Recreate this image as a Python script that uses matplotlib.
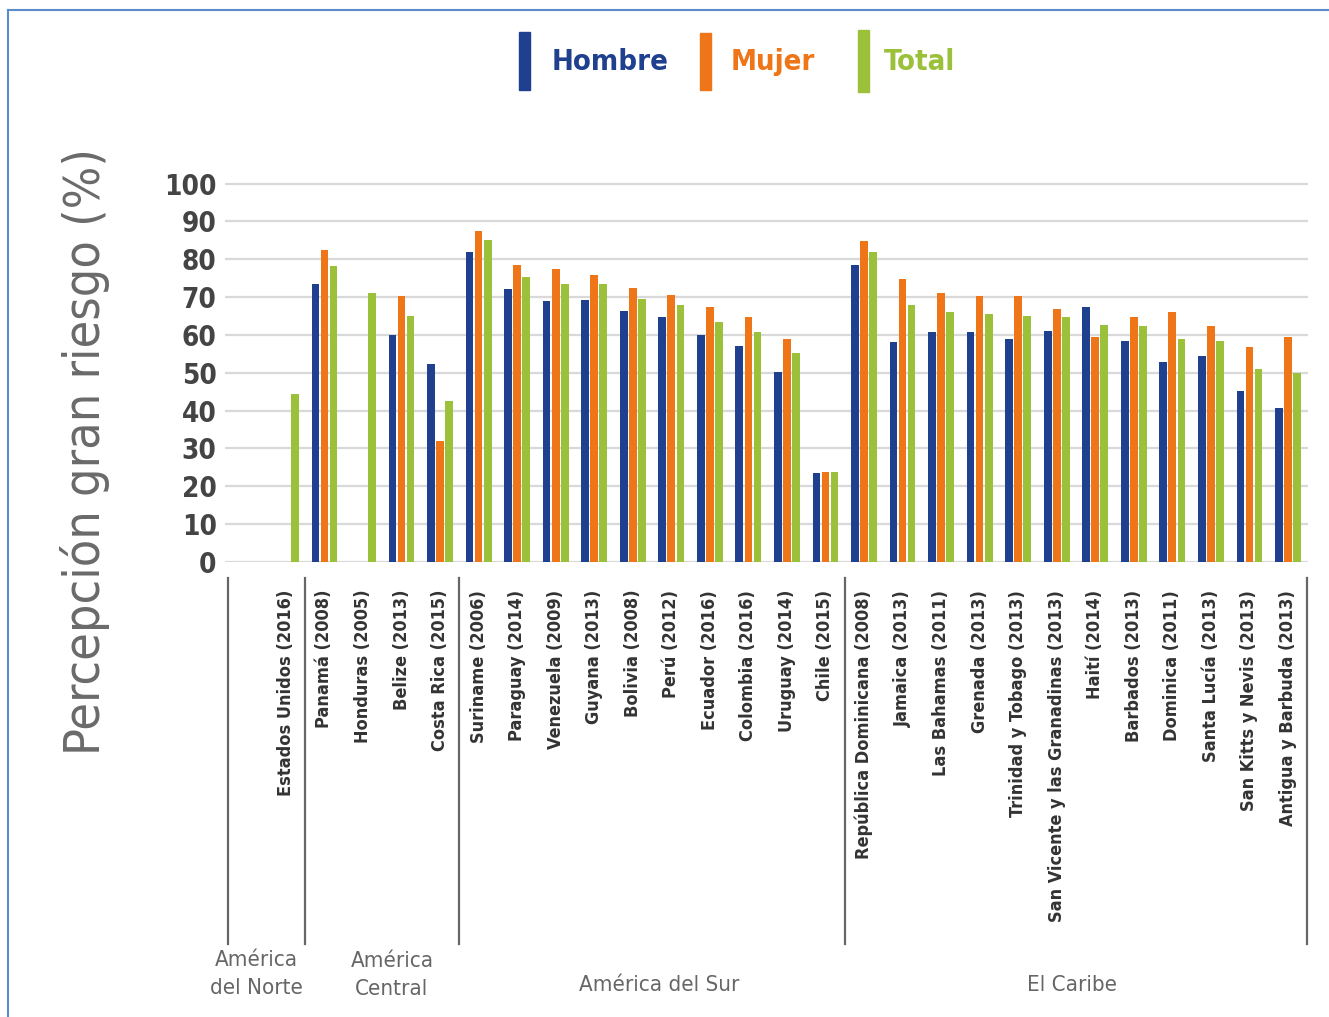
import matplotlib.pyplot as plt
from matplotlib.patches import Rectangle
from matplotlib.lines import Line2D
import numpy as np

# countries (survey year) in display order
paises = ["Estados Unidos (2016)", "Panamá (2008)", "Honduras (2005)", "Belize (2013)",
          "Costa Rica (2015)", "Suriname (2006)", "Paraguay (2014)", "Venezuela (2009)",
          "Guyana (2013)", "Bolivia (2008)", "Perú (2012)", "Ecuador (2016)",
          "Colombia (2016)", "Uruguay (2014)", "Chile (2015)",
          "República Dominicana (2008)", "Jamaica (2013)", "Las Bahamas (2011)",
          "Grenada (2013)", "Trinidad y Tobago (2013)",
          "San Vicente y las Granadinas (2013)", "Haití (2014)", "Barbados (2013)",
          "Dominica (2011)", "Santa Lucía (2013)", "San Kitts y Nevis (2013)",
          "Antigua y Barbuda (2013)"]

hombre = [np.nan, 73.4, np.nan, 59.9, 52.2, 81.8, 72.0, 68.9, 69.2, 66.4, 64.6, 59.9,
          57.1, 50.2, 23.4, 78.5, 58.1, 60.8, 60.8, 58.9, 61.1, 67.4, 58.4, 52.8,
          54.3, 45.3, 40.7]
mujer = [np.nan, 82.4, np.nan, 70.2, 32.1, 87.4, 78.5, 77.3, 75.7, 72.4, 70.6, 67.4,
         64.6, 58.9, 23.8, 84.7, 74.8, 71.0, 70.2, 70.2, 66.8, 59.5, 64.6, 66.0,
         62.3, 56.7, 59.5]
total = [44.5, 78.2, 71.0, 65.0, 42.6, 85.2, 75.3, 73.4, 73.4, 69.6, 67.8, 63.5,
         60.8, 55.3, 23.8, 81.8, 67.9, 66.0, 65.5, 65.0, 64.6, 62.7, 62.3, 58.9,
         58.4, 51.0, 50.0]

series = ["Hombre", "Mujer", "Total"]
colores = ["#1f3f8f", "#ee7518", "#9bc03a"]

regiones = ["América\ndel Norte", "América\nCentral", "América del Sur", "El Caribe"]
separadores = [-1.5, 0.5, 4.5, 14.5, 26.5]

plt.rcParams['font.family'] = ["DejaVu Sans"]
plt.rcParams['font.stretch'] = "condensed"

W, H = 1329, 1017
fig = plt.figure(figsize=(W / 100, H / 100), dpi=100)
ax = fig.add_axes([225 / W, 1 - 562 / H, (1308 - 225) / W, (562 - 182) / H])

x = np.arange(len(paises))
bw = 0.2
off = 0.235
for i, (vals, c) in enumerate(zip([hombre, mujer, total], colores)):
    ax.bar(x + (i - 1) * off, vals, width=bw, color=c, zorder=3)

ax.set_xlim(-1.58, 26.52)
ax.set_ylim(0, 100.4)
ax.set_yticks(range(0, 101, 10))
ax.yaxis.grid(True, color="#d9d9d9", linewidth=1.6, zorder=0)
for s in ax.spines.values():
    s.set_visible(False)
ax.tick_params(axis="y", length=0, pad=6, labelsize=20, labelcolor="#444444")
for t in ax.get_yticklabels():
    t.set_fontweight("bold")
ax.set_xticks(x)
ax.set_xticklabels(paises, rotation=90, fontsize=13, fontweight="bold",
                   color="#333333", va="top", ha="center")
ax.tick_params(axis="x", length=0, pad=20)

# separators under the axis
for s in separadores:
    ax.add_line(Line2D([s, s], [-4.2, -101], color="#666666", linewidth=1.6,
                       clip_on=False, transform=ax.transData))

# region labels
fig.text(256 / W, 1 - 974 / H, regiones[0], ha="center", va="center",
         fontsize=16, color="#666666", linespacing=1.5)
fig.text(392 / W, 1 - 975 / H, regiones[1], ha="center", va="center",
         fontsize=16, color="#666666", linespacing=1.5)
fig.text(659 / W, 1 - 985 / H, regiones[2], ha="center", va="center",
         fontsize=16, color="#666666")
fig.text(1072 / W, 1 - 985 / H, regiones[3], ha="center", va="center",
         fontsize=16, color="#666666")

# y label
fig.text(85 / W, 1 - 452 / H, "Percepción gran riesgo (%)", rotation=90,
         ha="center", va="center", fontsize=36, color="#6a6a6a")

# legend drawn by hand: tall bars + coloured text
leg_x = [519, 700, 858]
leg_top = [32, 33, 30]
leg_bot = [90, 90, 92]
txt_x = [552, 731, 884]
for lx, lt, lb, tx, name, c in zip(leg_x, leg_top, leg_bot, txt_x, series, colores):
    fig.patches.append(Rectangle((lx / W, 1 - lb / H), 11 / W, (lb - lt) / H,
                                 transform=fig.transFigure, color=c))
    fig.text(tx / W, 1 - 62 / H, name, ha="left", va="center", fontsize=21,
             fontweight="bold", color=c)

# frame (left and top blue lines)
fig.add_artist(Line2D([8 / W, 8 / W], [0, 1 - 10 / H], color="#5b8bc9",
                      linewidth=1.5, transform=fig.transFigure))
fig.add_artist(Line2D([8 / W, 1], [1 - 10 / H, 1 - 10 / H], color="#5b8bc9",
                      linewidth=1.5, transform=fig.transFigure))

fig.savefig("out.png", dpi=100)
